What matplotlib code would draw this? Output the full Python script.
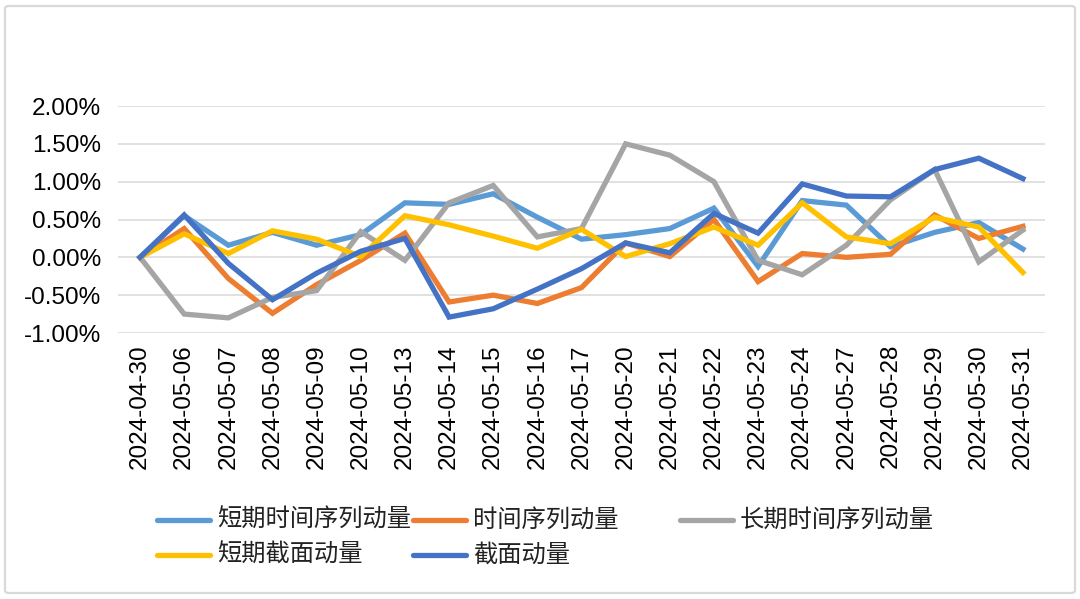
import matplotlib
matplotlib.use("Agg")
import matplotlib.pyplot as plt
from matplotlib.lines import Line2D
from matplotlib.patches import FancyBboxPatch
from matplotlib.ticker import FuncFormatter

dates = ["2024-04-30", "2024-05-06", "2024-05-07", "2024-05-08", "2024-05-09",
         "2024-05-10", "2024-05-13", "2024-05-14", "2024-05-15", "2024-05-16",
         "2024-05-17", "2024-05-20", "2024-05-21", "2024-05-22", "2024-05-23",
         "2024-05-24", "2024-05-27", "2024-05-28", "2024-05-29", "2024-05-30",
         "2024-05-31"]

# values in %
short_ts = [0.00, 0.55, 0.16, 0.33, 0.16, 0.30, 0.72, 0.70, 0.84, 0.53,
            0.24, 0.30, 0.38, 0.65, -0.12, 0.75, 0.69, 0.14, 0.33, 0.46, 0.11]
ts = [0.00, 0.38, -0.28, -0.74, -0.36, -0.04, 0.32, -0.59, -0.50, -0.61,
      -0.40, 0.19, 0.01, 0.50, -0.32, 0.05, 0.00, 0.04, 0.56, 0.25, 0.41]
long_ts = [0.00, -0.75, -0.80, -0.53, -0.44, 0.34, -0.04, 0.72, 0.95, 0.27,
           0.38, 1.50, 1.35, 1.00, -0.04, -0.23, 0.16, 0.76, 1.16, -0.06, 0.36]
short_cs = [0.00, 0.31, 0.05, 0.35, 0.24, 0.01, 0.55, 0.43, 0.28, 0.12,
            0.37, 0.01, 0.18, 0.40, 0.16, 0.72, 0.27, 0.18, 0.53, 0.40, -0.20]
cs = [0.00, 0.56, -0.08, -0.56, -0.21, 0.08, 0.25, -0.79, -0.68, -0.42,
      -0.15, 0.19, 0.06, 0.58, 0.32, 0.97, 0.81, 0.80, 1.16, 1.31, 1.04]

names = ["短期时间序列动量", "时间序列动量", "长期时间序列动量", "短期截面动量", "截面动量"]
colors = ["#5B9BD5", "#ED7D31", "#A5A5A5", "#FFC000", "#4472C4"]
yticks = [-1.0, -0.5, 0.0, 0.5, 1.0, 1.5, 2.0]

plt.rcParams["font.family"] = ["Liberation Sans", "Noto Sans CJK SC", "DejaVu Sans"]

W, H = 1080, 599
fig = plt.figure(figsize=(W / 100, H / 100), dpi=100)

# light frame around the chart
frame = FancyBboxPatch((5 / W, 6 / H), 1070 / W, 587 / H,
                       boxstyle="round,pad=0,rounding_size=0.004",
                       transform=fig.transFigure, fc="none", ec="#D9D9D9", lw=1.6)
fig.add_artist(frame)

ax = fig.add_axes([118 / W, 1 - 333 / H, 927 / W, 227 / H])
series = [short_ts, ts, long_ts, short_cs, cs]
x = list(range(len(dates)))
for vals, c in zip(series, colors):
    ax.plot(x, vals, color=c, lw=3.8, solid_joinstyle="miter", zorder=3)

ax.set_xlim(-0.5, len(dates) - 0.5)
ax.set_ylim(-1.0, 2.0)
ax.set_yticks(yticks)
ax.yaxis.set_major_formatter(FuncFormatter(lambda v, p: f"{v:.2f}%"))
ax.grid(axis="y", color="#D9D9D9", lw=1.1, zorder=0)
ax.set_xticks(x)
ax.set_xticklabels(dates, rotation=90)
ax.tick_params(axis="y", length=0, pad=12, labelsize=17.5)
ax.tick_params(axis="x", length=0, pad=8, labelsize=17.5)
for s in ax.spines.values():
    s.set_visible(False)

# legend, laid out like the Excel one
leg_pos = [(157, 520), (413, 520), (680, 520), (157, 555), (413, 555)]
for (lx, ly), name, c in zip(leg_pos, names, colors):
    fig.add_artist(Line2D([lx / W, (lx + 53) / W], [1 - ly / H, 1 - ly / H],
                          transform=fig.transFigure, color=c, lw=3.8,
                          solid_capstyle="round"))
    fig.text((lx + 60) / W, 1 - ly / H, name, fontsize=17.5,
             family=["Noto Sans CJK SC", "DejaVu Sans"], va="center", ha="left",
             color="#222222")

fig.savefig("out.png", dpi=100, facecolor="white")
